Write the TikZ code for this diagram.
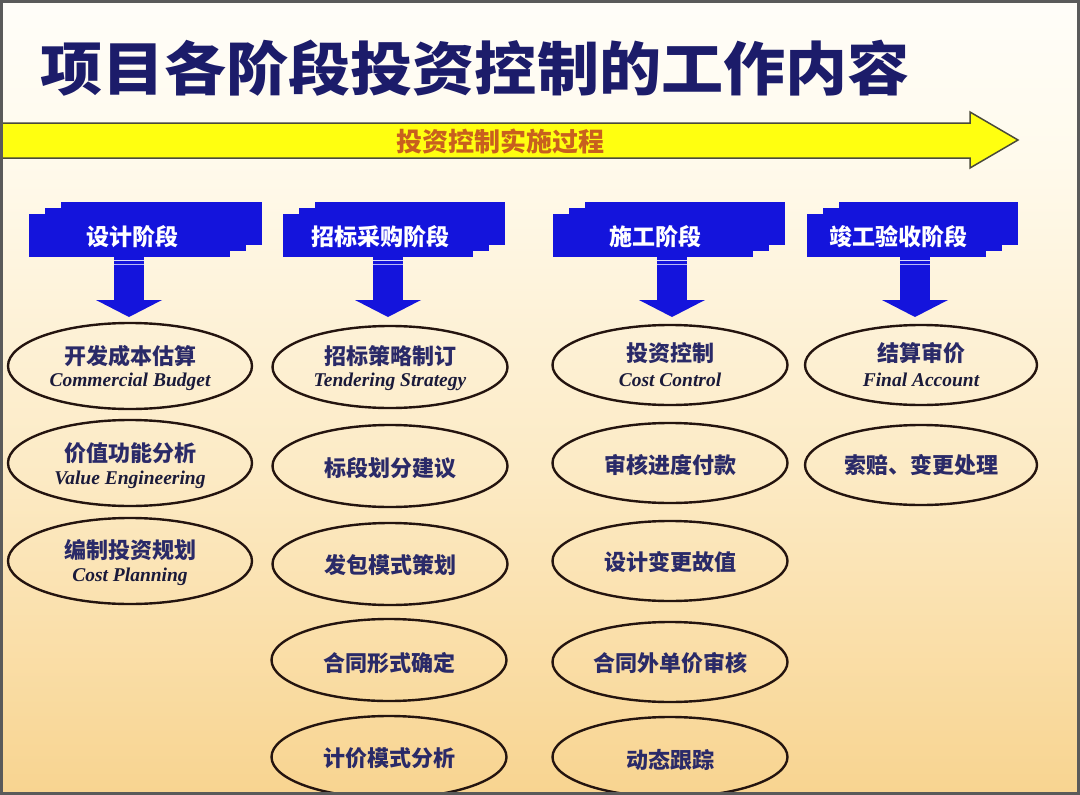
\documentclass[tikz,border=0pt]{standalone}
\usepackage{fontspec}
\usetikzlibrary{shapes.geometric,calc}
\newfontfamily\cjk{Noto Sans CJK SC}
\newfontfamily\enserif{Liberation Serif}
\definecolor{titlenavy}{HTML}{1C1C6A}
\definecolor{cntext}{HTML}{2A2A68}
\definecolor{entext}{HTML}{1A1A3A}
\definecolor{stageblue}{HTML}{1414DC}
\definecolor{arrowyellow}{HTML}{FFFF10}
\definecolor{arrowline}{HTML}{4A4A3A}
\definecolor{processtext}{HTML}{C8601E}
\definecolor{ellline}{HTML}{24140F}
\definecolor{framegray}{HTML}{5A5A5A}
\definecolor{bgtop}{HTML}{FFFFFF}
\definecolor{bgupper}{HTML}{FFFAEC}
\definecolor{bgmid}{HTML}{FCEAC4}
\definecolor{bglow}{HTML}{F8D490}
\definecolor{bgbot}{HTML}{F3BC5A}
\pgfdeclareverticalshading{bgshade}{100bp}{color(0bp)=(bgbot); color(25bp)=(bglow); color(45bp)=(bgmid); color(65bp)=(bgupper); color(80bp)=(bgtop); color(100bp)=(bgtop)}
\tikzset{
  ell/.style={ellipse, draw=ellline, line width=2.4pt, minimum width=235pt, minimum height=80pt, inner sep=0pt},
  cn/.style={font=\cjk\bfseries\fontsize{22}{24}\selectfont, text=cntext, inner sep=0pt},
  en/.style={font=\enserif\bfseries\itshape\fontsize{19.5}{21}\selectfont, text=entext, inner sep=0pt},
  stagetext/.style={font=\cjk\bfseries\fontsize{23}{25}\selectfont, text=white, inner sep=0pt},
}
\newcommand\stagebox[2]{%
  \fill[stageblue] (#1,214) rectangle (#2-32,257);
  \fill[stageblue] (#1+16,208) rectangle (#2-16,251);
  \fill[stageblue] (#1+32,202) rectangle (#2,245);
}
\newcommand\stagearrow[1]{%
  \fill[stageblue] (#1-15,257) rectangle (#1+15,301);
  \fill[stageblue] (#1-33,300) -- (#1+33,300) -- (#1,317) -- cycle;
  \draw[white!85!stageblue, line width=1pt] (#1-15,260.5) -- (#1+15,260.5);
  \draw[white!70!stageblue, line width=1pt] (#1-15,264) -- (#1+15,264);
}
\begin{document}
\begin{tikzpicture}[x=1pt,y=-1pt]
\useasboundingbox (0,0) rectangle (1080,795);
\shade[shading=bgshade] (0,0) rectangle (1080,795);
% title
\node[font=\cjk\bfseries\fontsize{58}{60}\selectfont, text=titlenavy, xscale=1.07, inner sep=0pt] (title) at (475,68) {项目各阶段投资控制的工作内容};
% process arrow
\draw[fill=arrowyellow, draw=arrowline, line width=1.5pt, line join=miter]
  (-2,123) -- (970,123) -- (970,112) -- (1018,140) -- (970,168) -- (970,158) -- (-2,158) -- cycle;
\node[font=\cjk\bfseries\fontsize{26}{28}\selectfont, text=processtext, inner sep=0pt] (process) at (500,141) {投资控制实施过程};
% stage boxes
\stagebox{29}{262}
\stagebox{283}{505}
\stagebox{553}{785}
\stagebox{807}{1018}
\node[stagetext] (s1) at (132,237) {设计阶段};
\node[stagetext] (s2) at (380,237) {招标采购阶段};
\node[stagetext] (s3) at (655,237) {施工阶段};
\node[stagetext] (s4) at (898,237) {竣工验收阶段};
\stagearrow{129}
\stagearrow{388}
\stagearrow{672}
\stagearrow{915}
% column 1
\node[ell, minimum width=244pt, minimum height=86pt] (a1) at (130,366) {};
\node[ell, minimum width=244pt, minimum height=86pt] (a2) at (130,463) {};
\node[ell, minimum width=244pt, minimum height=86pt] (a3) at (130,561) {};
\node[cn] at ($(a1.center)+(0,-10)$) {开发成本估算};
\node[en] at ($(a1.center)+(0,16)$) {Commercial Budget};
\node[cn] at ($(a2.center)+(0,-10)$) {价值功能分析};
\node[en] at ($(a2.center)+(0,17)$) {Value Engineering};
\node[cn] at ($(a3.center)+(0,-11)$) {编制投资规划};
\node[en] at ($(a3.center)+(0,16)$) {Cost Planning};
% column 2
\node[ell, minimum height=82pt] (b1) at (390,367) {};
\node[ell, minimum height=82pt] (b2) at (390,466) {};
\node[ell, minimum height=82pt] (b3) at (390,564) {};
\node[ell, minimum height=82pt] (b4) at (389,660) {};
\node[ell, minimum height=82pt] (b5) at (389,757) {};
\node[cn] at ($(b1.center)+(0,-11)$) {招标策略制订};
\node[en] at ($(b1.center)+(0,15)$) {Tendering Strategy};
\node[cn] at ($(b2.center)+(0,2)$) {标段划分建议};
\node[cn] at ($(b3.center)+(0,1)$) {发包模式策划};
\node[cn] at ($(b4.center)+(0,3)$) {合同形式确定};
\node[cn] at ($(b5.center)+(0,1)$) {计价模式分析};
% column 3
\node[ell] (c1) at (670,365) {};
\node[ell] (c2) at (670,463) {};
\node[ell] (c3) at (670,561) {};
\node[ell] (c4) at (670,662) {};
\node[ell] (c5) at (670,757) {};
\node[cn] at ($(c1.center)+(0,-12)$) {投资控制};
\node[en] at ($(c1.center)+(0,15)$) {Cost Control};
\node[cn] at ($(c2.center)+(0,2)$) {审核进度付款};
\node[cn] at ($(c3.center)+(0,1)$) {设计变更故值};
\node[cn] at ($(c4.center)+(0,1)$) {合同外单价审核};
\node[cn] at ($(c5.center)+(0,3)$) {动态跟踪};
% column 4
\node[ell, minimum width=232pt] (d1) at (921,365) {};
\node[ell, minimum width=232pt] (d2) at (921,465) {};
\node[cn] at ($(d1.center)+(0,-12)$) {结算审价};
\node[en] at ($(d1.center)+(0,15)$) {Final Account};
\node[cn] at ($(d2.center)+(0,0)$) {索赔、变更处理};
% frame
\draw[framegray, line width=3pt] (1.5,1.5) rectangle (1078.5,793.5);
\end{tikzpicture}
\end{document}
